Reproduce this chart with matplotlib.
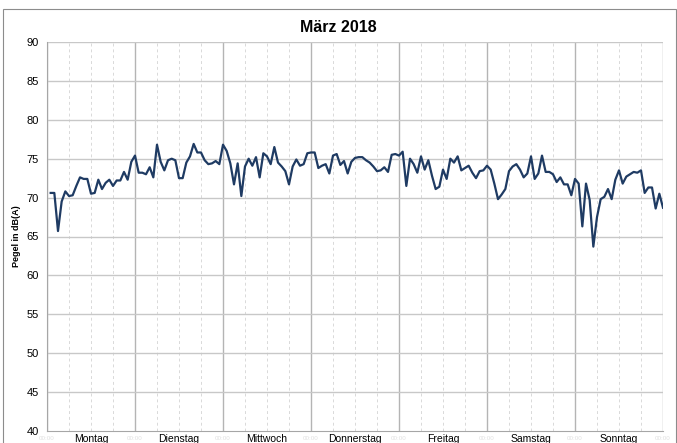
import matplotlib.pyplot as plt
import numpy as np

plt.rcParams['font.family'] = ['Liberation Sans', 'DejaVu Sans']

days = ['Montag', 'Dienstag', 'Mittwoch', 'Donnerstag', 'Freitag', 'Samstag', 'Sonntag']

# hourly levels in dB(A), 24 values per day
montag = [70.6, 70.6, 65.7, 69.5, 70.8, 70.2, 70.3, 71.5, 72.6, 72.4, 72.4, 70.5,
          70.6, 72.3, 71.1, 71.9, 72.3, 71.5, 72.2, 72.2, 73.3, 72.3, 74.6, 75.4]
dienstag = [73.2, 73.2, 73.0, 73.9, 72.6, 76.8, 74.6, 73.5, 74.8, 75.0, 74.8, 72.5,
            72.5, 74.5, 75.3, 76.9, 75.8, 75.8, 74.8, 74.3, 74.4, 74.7, 74.3, 76.8]
mittwoch = [76.0, 74.4, 71.7, 74.4, 70.2, 74.0, 75.0, 74.1, 75.2, 72.6, 75.7, 75.3,
            74.3, 76.5, 74.5, 74.0, 73.4, 71.7, 74.0, 74.9, 74.1, 74.3, 75.7, 75.8]
donnerstag = [75.8, 73.8, 74.1, 74.3, 73.1, 75.4, 75.6, 74.2, 74.7, 73.1, 74.6, 75.1,
              75.2, 75.2, 74.8, 74.5, 74.0, 73.4, 73.5, 73.9, 73.3, 75.5, 75.6, 75.4]
freitag = [75.9, 71.5, 75.0, 74.3, 73.2, 75.3, 73.6, 74.8, 72.8, 71.1, 71.4, 73.6,
           72.4, 75.0, 74.5, 75.3, 73.5, 73.8, 74.1, 73.2, 72.5, 73.4, 73.5, 74.1]
samstag = [73.6, 71.8, 69.8, 70.4, 71.1, 73.4, 74.0, 74.3, 73.6, 72.6, 73.1, 75.3,
           72.4, 73.1, 75.4, 73.3, 73.3, 73.0, 72.0, 72.6, 71.7, 71.7, 70.3, 72.4]
sonntag = [71.8, 66.3, 71.8, 69.7, 63.7, 67.5, 69.8, 70.1, 71.1, 69.8, 72.3, 73.5,
           71.8, 72.7, 73.0, 73.3, 73.2, 73.5, 70.6, 71.3, 71.3, 68.6, 70.5, 68.7]

pegel = montag + dienstag + mittwoch + donnerstag + freitag + samstag + sonntag
hours = np.arange(1, len(pegel) + 1)

W, H = 677, 443
fig = plt.figure(figsize=(W / 100, H / 100), dpi=100)
ax = fig.add_axes([47 / W, (H - 431) / H, (663 - 47) / W, (431 - 42) / H])

# outer chart border
fig.patches.append(plt.Rectangle((3 / W, -0.01), (676 - 3) / W, (H - 9) / H + 0.01,
                                 transform=fig.transFigure, fill=False,
                                 edgecolor='#8c8c8c', linewidth=0.8))

ax.plot(hours, pegel, color='#1f3b63', linewidth=1.6, zorder=3)

ax.set_xlim(0, 168)
ax.set_ylim(40, 90)
ax.set_yticks(np.arange(40, 91, 5))
ax.tick_params(axis='y', labelsize=8, length=0, pad=6, colors='#000000')

# day boundaries and 6 h subdivisions
for x in range(0, 169, 24):
    ax.axvline(x, color='#b4b4b4', linewidth=1.0, zorder=1)
for x in range(0, 169, 6):
    if x % 24:
        ax.axvline(x, color='#d9d9d9', linewidth=0.7, linestyle=(0, (3, 3)), zorder=1)
for y in range(45, 91, 5):
    ax.axhline(y, color='#c8c8c8', linewidth=1.0, zorder=1)

ax.set_xticks(np.arange(12, 168, 24))
ax.set_xticklabels(days, fontsize=7.5)
ax.tick_params(axis='x', length=0, pad=2.5)
for x in range(0, 169, 24):
    ax.text(x, 39.3, '00:00', fontsize=4.5, color='#e0e0e0', ha='center', va='top',
            clip_on=False)

for s in ['top', 'right']:
    ax.spines[s].set_visible(False)
ax.spines['left'].set_color('#a6a6a6')
ax.spines['bottom'].set_color('#a6a6a6')

ax.set_ylabel('Pegel in dB(A)', fontsize=6.5, fontweight='bold', labelpad=4)
fig.text(0.5, (H - 27) / H, 'März 2018', fontsize=11.5, fontweight='bold',
         ha='center', va='center')

fig.savefig('out.png', dpi=100)
